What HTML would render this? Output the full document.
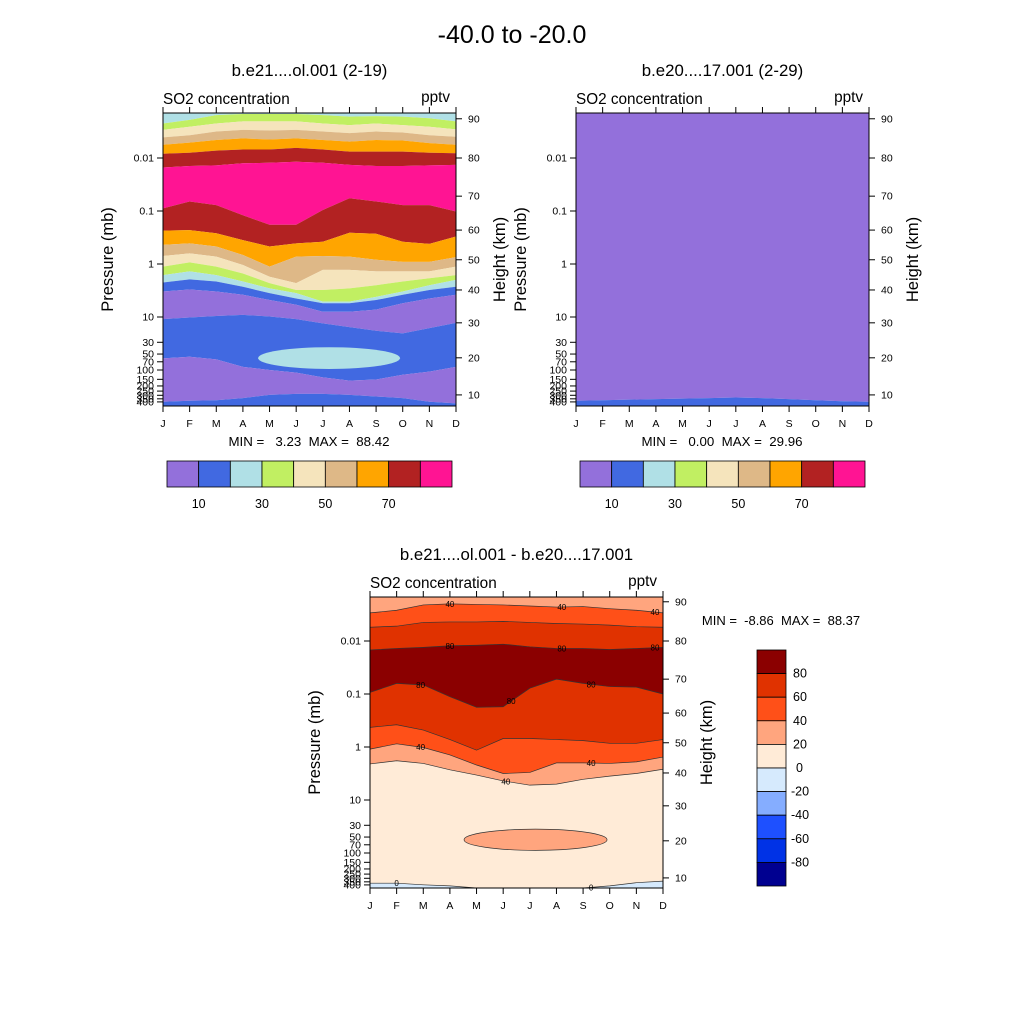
<!DOCTYPE html>
<html><head><meta charset="utf-8"><style>
html,body{margin:0;padding:0;background:#fff}
svg{display:block;font-family:"Liberation Sans",Arial,sans-serif}
text{white-space:pre}
</style></head><body>
<svg id="root" width="1024" height="1024" viewBox="0 0 1024 1024" xmlns="http://www.w3.org/2000/svg">
<rect width="1024" height="1024" fill="#fff"/>
<text x="512" y="43" font-size="25" text-anchor="middle">-40.0 to -20.0</text>
</svg>
<script>
// ---------- data ----------
const months=['J','F','M','A','M','J','J','A','S','O','N','D'];
const pTicks=[0.01,0.1,1,10,30,50,70,100,150,200,250,300,350,400];
const hTicks=[90,80,70,60,50,40,30,20,10];
const hTickLogP=[-2.74,-2.00,-1.28,-0.64,-0.08,0.49,1.11,1.77,2.47];
// Panel A boundaries (log10 pressure, top to bottom)
const A1=[-2.65,-2.72,-2.81,-2.83,-2.83,-2.83,-2.81,-2.78,-2.79,-2.78,-2.75,-2.69];
const A2=[-2.53,-2.59,-2.65,-2.69,-2.69,-2.69,-2.65,-2.62,-2.65,-2.62,-2.59,-2.54];
const A3=[-2.39,-2.43,-2.50,-2.53,-2.52,-2.53,-2.50,-2.47,-2.50,-2.48,-2.43,-2.40];
const A4=[-2.25,-2.29,-2.34,-2.37,-2.35,-2.37,-2.34,-2.31,-2.34,-2.33,-2.28,-2.25];
const A5=[-2.08,-2.10,-2.14,-2.16,-2.16,-2.19,-2.16,-2.12,-2.12,-2.12,-2.10,-2.09];
const A6=[-1.82,-1.85,-1.86,-1.90,-1.91,-1.93,-1.91,-1.87,-1.85,-1.85,-1.86,-1.87];
const A7=[-1.05,-1.18,-1.11,-0.92,-0.74,-0.74,-1.02,-1.24,-1.18,-1.11,-1.11,-0.99];
const A8=[-0.63,-0.64,-0.58,-0.45,-0.33,-0.39,-0.42,-0.59,-0.57,-0.42,-0.38,-0.52];
const A9=[-0.36,-0.39,-0.33,-0.17,0.05,-0.14,-0.15,-0.14,-0.08,-0.04,-0.04,-0.13];
const A10=[-0.15,-0.20,-0.14,0.02,0.24,0.36,0.11,0.11,0.14,0.14,0.14,0.05];
const A11=[0.05,-0.03,0.05,0.18,0.36,0.49,0.49,0.46,0.40,0.33,0.27,0.21];
const A12=[0.21,0.14,0.21,0.33,0.46,0.55,0.71,0.71,0.62,0.52,0.40,0.30];
const A13=[0.35,0.29,0.33,0.43,0.55,0.65,0.74,0.74,0.68,0.58,0.49,0.43];
const A14=[0.52,0.48,0.52,0.58,0.68,0.77,0.90,0.90,0.86,0.74,0.65,0.58];
const A15=[1.04,1.01,0.98,0.96,0.99,1.04,1.12,1.19,1.26,1.31,1.21,1.11];
const A16=[1.78,1.75,1.80,1.94,2.00,2.05,2.14,2.20,2.18,2.09,2.03,1.94];
const A17=[2.60,2.58,2.57,2.53,2.47,2.45,2.45,2.47,2.50,2.53,2.60,2.63];
const A_ellipse=[3.57,8.9,1.57,1.98]; // month start, month end, logp top, logp bottom
// Panel B boundary
const B1=[2.58,2.57,2.56,2.55,2.54,2.53,2.52,2.53,2.55,2.57,2.59,2.60];
// Difference panel boundaries
const C1=[-2.53,-2.58,-2.68,-2.70,-2.69,-2.68,-2.66,-2.64,-2.65,-2.61,-2.58,-2.53];
const C2=[-2.26,-2.28,-2.35,-2.36,-2.36,-2.37,-2.35,-2.33,-2.32,-2.30,-2.27,-2.26];
const C3=[-1.83,-1.86,-1.88,-1.91,-1.92,-1.94,-1.89,-1.86,-1.86,-1.84,-1.86,-1.88];
const C4=[-1.03,-1.20,-1.17,-0.95,-0.75,-0.76,-1.11,-1.28,-1.20,-1.14,-1.13,-1.00];
const C5=[-0.37,-0.42,-0.32,-0.14,0.06,-0.16,-0.16,-0.14,-0.12,-0.07,-0.07,-0.14];
const C6=[0.04,-0.06,0.01,0.15,0.34,0.50,0.48,0.30,0.30,0.31,0.28,0.19];
const C7=[0.32,0.26,0.31,0.43,0.53,0.64,0.72,0.70,0.61,0.55,0.50,0.42];
const C8=[2.57,2.57,2.60,2.62,2.67,2.67,2.67,2.67,2.67,2.62,2.56,2.53];
const C_ellipse=[3.53,8.9,1.55,1.95];
const C_labels=[[3,0,'40'],[7.2,0,'40'],[10.7,0,'40'],[3,2,'80'],[7.2,2,'80'],[10.7,2,'80'],[1.9,3,'80'],[5.3,3,'80'],[8.3,3,'80'],[1.9,5,'40'],[5.1,6,'40'],[8.3,5,'40'],[1,7,'0'],[8.3,7,'0']];
const rainbowColors=['#9370DB','#4169E1','#B0E0E6','#C1EF62','#F5E4BC','#DEB887','#FFA500','#B22222','#FF1493'];
const rainbowLabels=['10','30','50','70'];
const diffColors=['#8B0000','#E03200','#FF5018','#FFA57E','#FFEBD7','#D6EAFD','#85ADFF','#1E50FF','#0032E6','#000090'];
const diffLabels=['80','60','40','20','0','-20','-40','-60','-80'];

// ---------- drawing ----------
const NS='http://www.w3.org/2000/svg';
const root=document.getElementById('root');
function mk(tag,attrs,parent,txt){const e=document.createElementNS(NS,tag);for(const k in attrs)e.setAttribute(k,attrs[k]);if(txt!==undefined)e.textContent=txt;(parent||root).appendChild(e);return e;}

function makePanel(x0,x1,yTop,yBot,y001){
  return {x0,x1,yTop,yBot,
    sx:m=>x0+(x1-x0)*m/11,
    sy:lp=>Math.max(yTop,Math.min(yBot,y001+53*(lp+2)))};
}
function band(P,up,lo,color,name){
  const pts=[];
  for(let i=0;i<12;i++)pts.push([P.sx(i),up?P.sy(up[i]):P.yTop]);
  for(let i=11;i>=0;i--)pts.push([P.sx(i),lo?P.sy(lo[i]):P.yBot]);
  const e=mk('polygon',{points:pts.map(p=>p.join(',')).join(' '),fill:color});
  
  
  return e;
}
function line(P,arr,name){
  const e=mk('polyline',{points:arr.map((v,i)=>P.sx(i)+','+P.sy(v)).join(' '),fill:'none',stroke:'#333','stroke-width':0.7});
  
  
}
function ellipse(P,E,color,stroke,name){
  const cx=(P.sx(E[0])+P.sx(E[1]))/2, rx=(P.sx(E[1])-P.sx(E[0]))/2;
  const cy=(P.sy(E[2])+P.sy(E[3]))/2, ry=(P.sy(E[3])-P.sy(E[2]))/2;
  const e=mk('ellipse',{cx,cy,rx,ry,fill:color,stroke:stroke||'none','stroke-width':0.7});
  
  
}
function axes(P,title,pid){
  const g=mk('g',{});
  
  
  mk('rect',{x:P.x0,y:P.yTop,width:P.x1-P.x0,height:P.yBot-P.yTop,fill:'none',stroke:'#000','stroke-width':1},g);
  months.forEach((m,i)=>{
    const x=P.sx(i);
    mk('line',{x1:x,x2:x,y1:P.yBot,y2:P.yBot+6,stroke:'#000'},g);
    mk('line',{x1:x,x2:x,y1:P.yTop,y2:P.yTop-6,stroke:'#000'},g);
    const t=mk('text',{x:x,y:P.yBot+21,'font-size':10.5,'text-anchor':'middle'},g,m);
    
    
  });
  pTicks.forEach(p=>{
    const y=P.sy(Math.log10(p));
    mk('line',{x1:P.x0-6,x2:P.x0,y1:y,y2:y,stroke:'#000'},g);
    const t=mk('text',{x:P.x0-9,y:y+3.5,'font-size':10.5,'text-anchor':'end'},g,String(p));
    
    
  });
  hTicks.forEach((h,i)=>{
    const y=P.sy(hTickLogP[i]);
    mk('line',{x1:P.x1,x2:P.x1+6,y1:y,y2:y,stroke:'#000'},g);
    const t=mk('text',{x:P.x1+12,y:y+3.5,'font-size':10.5},g,String(h));
    
    
  });
  const cy=(P.yTop+P.yBot)/2;
  const yl=mk('text',{x:0,y:0,'font-size':16.5,'text-anchor':'middle',transform:`translate(${P.x0-50},${cy}) rotate(-90)`},g,'Pressure (mb)');
  
  
  const yr=mk('text',{x:0,y:0,'font-size':16.5,'text-anchor':'middle',transform:`translate(${P.x1+49},${cy}) rotate(-90)`},g,'Height (km)');
  
  
  const l=mk('text',{x:P.x0,y:P.yTop-9,'font-size':15.3},g,'SO2 concentration');
  
  
  const r=mk('text',{x:P.x1-6,y:P.yTop-11,'font-size':15.3,'text-anchor':'end'},g,'pptv');
  
  
  const tt=mk('text',{x:(P.x0+P.x1)/2,y:P.yTop-37,'font-size':16.8,'text-anchor':'middle'},g,title);
  
  
}
function hbar(x0,y,w,h,colors,labels,name){
  const g=mk('g',{});
  
  
  const bw=w/colors.length;
  colors.forEach((c,i)=>mk('rect',{x:x0+i*bw,y,width:bw,height:h,fill:c,stroke:'#000','stroke-width':0.8},g));
  labels.forEach((l,i)=>{
    const t=mk('text',{x:x0+bw*(2*i+1),y:y+h+21,'font-size':12.5,'text-anchor':'middle'},g,l);
    
    
  });
}

// Panel A
const PA=makePanel(163,456,113,406,158);
const Ab=[null,A1,A2,A3,A4,A5,A6,A7,A8,A9,A10,A11,A12,A13,A14,A15,A16,A17,null];
const Ac=['#B0E0E6','#C1EF62','#F5E4BC','#DEB887','#FFA500','#B22222','#FF1493','#B22222','#FFA500','#DEB887','#F5E4BC','#C1EF62','#B0E0E6','#4169E1','#9370DB','#4169E1','#9370DB','#4169E1'];
for(let i=0;i<Ac.length;i++)band(PA,Ab[i],Ab[i+1],Ac[i],'panel-a-band');
ellipse(PA,A_ellipse,'#B0E0E6',null,'panel-a-ellipse');
axes(PA,'b.e21....ol.001 (2-19)','panel-a');
const ma=mk('text',{x:309,y:446,'font-size':13.3,'text-anchor':'middle'},root,'MIN =   3.23  MAX =  88.42');


hbar(167,461,285,26,rainbowColors,rainbowLabels,'panel-a-colorbar');

// Panel B
const PB=makePanel(576,869,113,406,158);
band(PB,null,B1,'#9370DB','panel-b-band');
band(PB,B1,null,'#4169E1','panel-b-band');
axes(PB,'b.e20....17.001 (2-29)','panel-b');
const mb=mk('text',{x:722,y:446,'font-size':13.3,'text-anchor':'middle'},root,'MIN =   0.00  MAX =  29.96');


hbar(580,461,285,26,rainbowColors,rainbowLabels,'panel-b-colorbar');

// Panel C (difference)
const PC=makePanel(370,663,597,888,641);
const Cb=[null,C1,C2,C3,C4,C5,C6,C7,C8,null];
const Cc=['#FFA57E','#FF5018','#E03200','#8B0000','#E03200','#FF5018','#FFA57E','#FFEBD7','#D6EAFD'];
for(let i=0;i<Cc.length;i++)band(PC,Cb[i],Cb[i+1],Cc[i],'panel-c-band');
[C1,C2,C3,C4,C5,C6,C7,C8].forEach(a=>line(PC,a,'contour-line'));
ellipse(PC,C_ellipse,'#FFA57E','#333','panel-c-ellipse');
const CL=[C1,C2,C3,C4,C5,C6,C7,C8];
C_labels.forEach(l=>{
  const m=l[0],arr=CL[l[1]],i=Math.min(10,Math.floor(m)),f=m-i;
  const lp=arr[i]*(1-f)+arr[i+1]*f;
  const t=mk('text',{x:PC.sx(m),y:PC.sy(lp)+3,'font-size':8,'text-anchor':'middle'},root,l[2]);
  
  
});
axes(PC,'b.e21....ol.001 - b.e20....17.001','panel-c');
const mc=mk('text',{x:781,y:625,'font-size':13,'text-anchor':'middle'},root,'MIN =  -8.86  MAX =  88.37');


(function(){
  const g=mk('g',{});
  
  
  const x=757,y0=650,w=29,bh=236/diffColors.length;
  diffColors.forEach((c,i)=>mk('rect',{x,y:y0+i*bh,width:w,height:bh,fill:c,stroke:'#000','stroke-width':0.8},g));
  diffLabels.forEach((l,i)=>{
    const t=mk('text',{x:l.startsWith('-')?791:793,y:y0+(i+1)*bh+4,'font-size':12.5},g,l);
    if(l==='0')t.setAttribute('x',796);
    
    
  });
})();
</script>
</body></html>
